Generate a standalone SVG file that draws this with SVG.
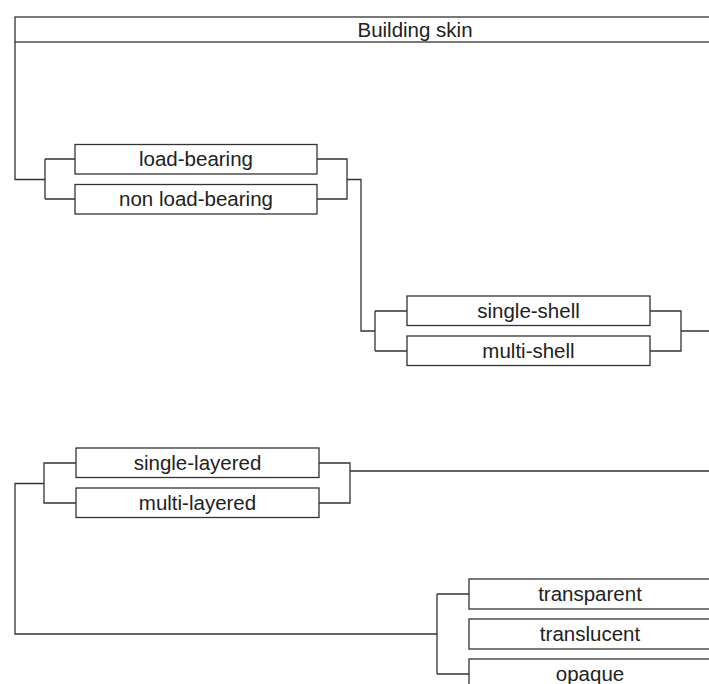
<svg xmlns="http://www.w3.org/2000/svg" width="709" height="684" viewBox="0 0 709 684">
<style>
.box{fill:#fff;stroke:#333;stroke-width:1.3}
.c{fill:none;stroke:#333;stroke-width:1.3}
text{font-family:"Liberation Sans",Arial,sans-serif;font-size:20.5px;fill:#222;text-anchor:middle}
</style>
<rect width="709" height="684" fill="#fff"/>
<g id="connectors" class="c">
<path d="M15,42 V179.5 H45 M45,159 V199 M45,159 H75 M45,199 H75"/>
<path d="M317,159 H347 V199 H317 M347,179.5 H361 V331 H375 M375,311 V351 M375,311 H407 M375,351 H407"/>
<path d="M650,311 H681 V351 H650 M681,331 H709"/>
<path d="M76,463 H44 V503 H76 M44,483.5 H15 V634 H437 M437,594 V674 M437,594 H469 M437,674 H469"/>
<path d="M319,463 H350 V503 H319 M350,471 H709"/>
</g>
<g id="building-skin"><rect class="box" x="15" y="17" width="800" height="25"/><text x="415" y="37">Building skin</text></g>
<g id="load-bearing"><rect class="box" x="75" y="144.5" width="242" height="29.5"/><text x="196" y="166">load-bearing</text></g>
<g id="non-load-bearing"><rect class="box" x="75" y="184.5" width="242" height="29.5"/><text x="196" y="206">non load-bearing</text></g>
<g id="single-shell"><rect class="box" x="407" y="296" width="243" height="29.5"/><text x="528.5" y="318">single-shell</text></g>
<g id="multi-shell"><rect class="box" x="407" y="336" width="243" height="29.5"/><text x="528.5" y="358">multi-shell</text></g>
<g id="single-layered"><rect class="box" x="76" y="448" width="243" height="29.5"/><text x="197.5" y="470">single-layered</text></g>
<g id="multi-layered"><rect class="box" x="76" y="488" width="243" height="29.5"/><text x="197.5" y="510">multi-layered</text></g>
<g id="transparent"><rect class="box" x="469" y="579" width="242" height="30"/><text x="590" y="601">transparent</text></g>
<g id="translucent"><rect class="box" x="469" y="619" width="242" height="30"/><text x="590" y="641">translucent</text></g>
<g id="opaque"><rect class="box" x="469" y="659" width="242" height="30"/><text x="590" y="681">opaque</text></g>
</svg>
